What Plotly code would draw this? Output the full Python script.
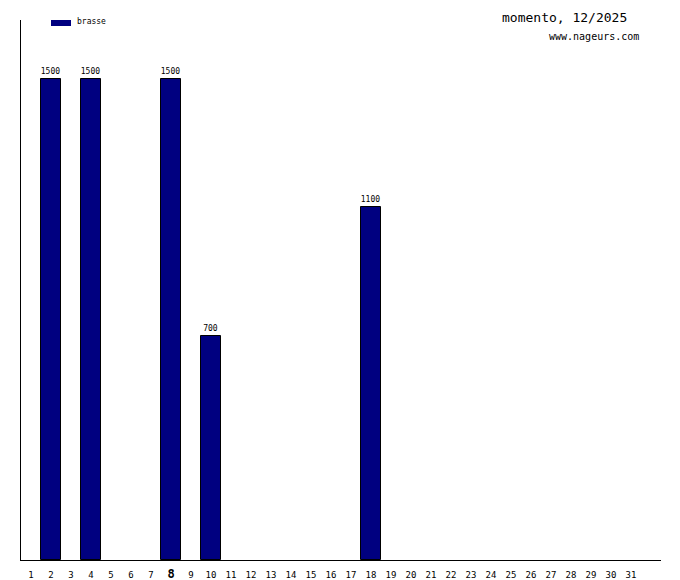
import plotly.graph_objects as go

days = [2, 4, 8, 10, 18]
values = [1500, 1500, 1500, 700, 1100]
all_days = list(range(1, 32))
current_day = 8
series_name = "brasse"
title_text = "momento, 12/2025"
site_text = "www.nageurs.com"

tick_text = [
    f"<span style='font-size:12px'><b>{d}</b></span>" if d == current_day else str(d)
    for d in all_days
]

fig = go.Figure()
fig.add_trace(go.Bar(
    x=days, y=values, width=1.0,
    marker=dict(color="#000080", line=dict(color="black", width=1)),
    text=[str(v) for v in values], textposition="outside",
    textfont=dict(family="DejaVu Sans Mono", size=8, color="black"),
    cliponaxis=False, name=series_name, showlegend=False,
))

# the page body adds an offset, so the figure is drawn smaller with margins shifted
fig.update_layout(
    width=672, height=572,
    margin=dict(l=13, r=19, t=12, b=20, autoexpand=False),
    paper_bgcolor="white", plot_bgcolor="white",
    bargap=0,
    xaxis=dict(range=[0.5, 32.5], tickmode="array", tickvals=all_days, ticktext=tick_text,
               showgrid=False, zeroline=False, showline=True, linecolor="black", linewidth=1,
               ticks="", tickfont=dict(family="DejaVu Sans Mono", size=9, color="black"),
               ticklabelstandoff=6, automargin=False),
    yaxis=dict(range=[0, 1684], showgrid=False, zeroline=False, showline=True,
               linecolor="black", linewidth=1, showticklabels=False, ticks="", automargin=False),
    font=dict(family="DejaVu Sans Mono", color="black"),
)

# legend
fig.add_shape(type="rect", xref="paper", yref="paper",
              x0=30/640, x1=50/640, y0=1 - 6/540, y1=1,
              fillcolor="#000080", line=dict(width=0))
fig.add_annotation(xref="paper", yref="paper", x=54/640, y=1 - 2/540, text=series_name,
                   showarrow=False, xanchor="left", yanchor="middle",
                   font=dict(family="DejaVu Sans Mono", size=8, color="black"))
fig.add_annotation(xref="paper", yref="paper", x=608/640, y=1 + 2/540, text=title_text,
                   showarrow=False, xanchor="right", yanchor="middle",
                   font=dict(family="DejaVu Sans Mono", size=13, color="black"))
fig.add_annotation(xref="paper", yref="paper", x=620/640, y=1 - 17/540, text=site_text,
                   showarrow=False, xanchor="right", yanchor="middle",
                   font=dict(family="DejaVu Sans Mono", size=10, color="black"))

fig.write_html("out.html")
